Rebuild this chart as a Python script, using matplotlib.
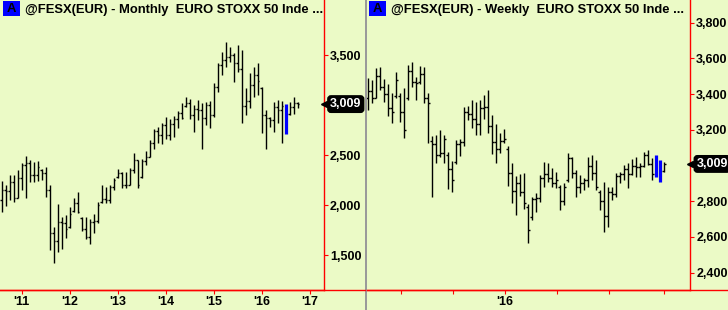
import matplotlib
matplotlib.use("Agg")
import matplotlib.pyplot as plt
import numpy as np
from matplotlib.patches import Rectangle
from matplotlib.lines import Line2D
from matplotlib.transforms import blended_transform_factory

BG = "#ebfac6"
RED = "#ff0000"
BLUE = "#0000ff"
plt.rcParams['font.family'] = ['Liberation Sans', 'DejaVu Sans']

# monthly bars, @FESX(EUR)
m_open = [2050, 2150, 2140, 2230, 2070, 2270, 2400, 2420, 2300, 2300,
          2350, 2320, 2150, 1720, 1640, 1830, 1820, 1780, 1940, 2020,
          1870, 1760, 1680, 1830, 1840, 2030, 2060, 2050, 2180, 2280,
          2320, 2200, 2200, 2350, 2450, 2280, 2440, 2480, 2620, 2740,
          2700, 2800, 2700, 2810, 2860, 2920, 2990, 3020, 2900, 2960,
          2950, 2870, 3000, 2900, 3180, 3400, 3450, 3480, 3500, 3420,
          3360, 2990, 3040, 3200, 3300, 3170, 2900, 2870, 2850, 2980,
          2950, 2990, 2910, 2980, 3020]
m_high = [2240, 2200, 2300, 2300, 2350, 2420, 2490, 2450, 2430, 2440,
          2360, 2380, 2200, 1780, 2010, 1880, 1900, 1980, 2070, 2130,
          1880, 1880, 1860, 1910, 2030, 2200, 2180, 2200, 2270, 2360,
          2330, 2330, 2370, 2520, 2450, 2460, 2540, 2650, 2760, 2780,
          2820, 2877, 2857, 2890, 2943, 3023, 3083, 3057, 3000, 3050,
          3017, 3033, 3040, 3223, 3417, 3533, 3633, 3583, 3517, 3600,
          3550, 3167, 3317, 3383, 3417, 3183, 2950, 2883, 3033, 3050,
          3040, 3010, 3033, 3083, 3033]
m_low = [1930, 1990, 2050, 2030, 2070, 2150, 2070, 2230, 2230, 2240,
         2250, 2080, 1550, 1420, 1530, 1560, 1670, 1770, 1930, 1920,
         1740, 1660, 1610, 1720, 1820, 2020, 2020, 2020, 2150, 2270,
         2170, 2170, 2200, 2320, 2170, 2270, 2400, 2480, 2560, 2620,
         2610, 2660, 2650, 2683, 2767, 2857, 2983, 2857, 2733, 2850,
         2557, 2800, 2767, 2883, 3133, 3300, 3383, 3433, 3233, 3333,
         2817, 2900, 2967, 3083, 3100, 2717, 2557, 2783, 2733, 2817,
         2617, 2707, 2900, 2910, 2967]
m_close = [2150, 2140, 2230, 2070, 2270, 2400, 2420, 2300, 2300, 2380,
           2320, 2150, 1720, 1640, 1830, 1820, 1760, 1910, 2020, 1930,
           1760, 1680, 1830, 1840, 2000, 2060, 2050, 2180, 2250, 2320,
           2200, 2200, 2350, 2450, 2200, 2440, 2480, 2620, 2740, 2700,
           2800, 2700, 2810, 2860, 2920, 2870, 3020, 2900, 2960, 2950,
           2870, 3000, 2900, 3180, 3400, 3450, 3480, 3500, 3420, 3360,
           2990, 3040, 3200, 3300, 3240, 2900, 2870, 2850, 2980, 2950,
           2990, 2850, 2980, 3020, 3009]
m_blue = [71]
m_ticks = [5, 17, 29, 41, 53, 65, 77]
m_tick_labels = ["'11", "'12", "'13", "'14", "'15", "'16", "'17"]
m_yticks = [1500, 2000, 2500, 3500]

# weekly bars, @FESX(EUR)
w_open = [3380, 3420, 3380, 3500, 3440, 3400, 3320, 3390, 3390, 3300,
          3380, 3530, 3470, 3470, 3510, 3380, 3140, 3120, 3060, 3070,
          3060, 2980, 3020, 3120, 3130, 3300, 3290, 3260, 3230, 3320,
          3330, 3220, 3130, 3090, 3140, 3090, 2960, 2860, 2900, 2850,
          2770, 2710, 2810, 2820, 2930, 2950, 2930, 2900, 2880, 2800,
          2920, 3040, 2960, 2880, 2900, 2920, 3000, 2960, 2850, 2800,
          2720, 2850, 2840, 2940, 2950, 2980, 2950, 3000, 2990, 3000,
          3060, 3010, 2950, 2990, 2970]
w_high = [3490, 3479, 3545, 3554, 3483, 3457, 3408, 3526, 3405, 3433,
          3563, 3582, 3498, 3557, 3554, 3408, 3166, 3171, 3199, 3171,
          3078, 3027, 3143, 3147, 3330, 3334, 3367, 3358, 3367, 3395,
          3423, 3283, 3233, 3181, 3203, 3110, 3013, 2942, 2953, 2960,
          2785, 2826, 2848, 2947, 3022, 3013, 2985, 2966, 2891, 2901,
          3069, 3050, 2975, 2947, 2929, 3050, 3059, 3031, 2863, 2910,
          2882, 2879, 2957, 2966, 3003, 3013, 3035, 3050, 3013, 3078,
          3087, 3041, 3059, 3031, 3022]
w_low = [3311, 3349, 3377, 3423, 3358, 3278, 3240, 3377, 3246, 3153,
         3367, 3442, 3367, 3457, 3349, 3125, 2826, 3013, 3050, 3013,
         2867, 2854, 3009, 3054, 3110, 3255, 3209, 3171, 3171, 3259,
         3181, 3065, 3017, 3072, 3125, 2886, 2792, 2723, 2830, 2755,
         2565, 2695, 2742, 2798, 2882, 2910, 2882, 2873, 2751, 2779,
         2910, 2929, 2826, 2845, 2863, 2882, 2919, 2863, 2751, 2630,
         2654, 2807, 2826, 2901, 2919, 2873, 2947, 2938, 2938, 2994,
         3003, 2919, 2934, 2906, 2966]
w_close = [3420, 3380, 3500, 3440, 3400, 3320, 3300, 3480, 3300, 3200,
           3530, 3470, 3460, 3510, 3380, 3350, 3120, 3060, 3070, 3150,
           2980, 2920, 3120, 3130, 3300, 3290, 3260, 3230, 3320, 3330,
           3220, 3130, 3090, 3140, 3150, 2960, 2860, 2900, 2850, 2790,
           2640, 2810, 2820, 2930, 2950, 2930, 2900, 2920, 2800, 2880,
           3040, 2960, 2880, 2900, 2920, 3000, 2960, 2880, 2800, 2720,
           2850, 2840, 2940, 2950, 2980, 2950, 3000, 2990, 3000, 3060,
           3010, 2950, 2990, 2940, 3009]
w_blue = [72, 73]
w_ticks = [8.15, 21.15, 34.15, 47.15, 60.15, 74.1]
w_tick_labels = ["", "", "'16", "", "", ""]
w_yticks = [2400, 2600, 2800, 3200, 3400, 3600, 3800]

last_price = 3009

W, H = 728, 310


def fx(px):
    return px / W


def fy(py):
    return 1 - py / H


def draw_bars(ax, o, h, l, c, blue):
    o, h, l, c = map(np.asarray, (o, h, l, c))
    x = np.arange(len(h))
    norm = np.array([i not in blue for i in x])
    ax.vlines(x[norm], l[norm], h[norm], color="black", lw=1.0)
    ax.hlines(o[norm], x[norm] - 0.4, x[norm], color="black", lw=1.0)
    ax.hlines(c[norm], x[norm], x[norm] + 0.4, color="black", lw=1.0)
    ax.vlines(x[~norm], l[~norm], h[~norm], color=BLUE, lw=2.3)


def style_axis(ax, yticks, xticks, xlabels):
    ax.set_facecolor(BG)
    for s in ("top", "left"):
        ax.spines[s].set_visible(False)
    for s in ("right", "bottom"):
        ax.spines[s].set_color(RED)
        ax.spines[s].set_linewidth(1.0)
    ax.yaxis.tick_right()
    ax.set_yticks(yticks)
    ax.set_yticklabels([f"{v:,}" for v in yticks])
    ax.set_xticks(xticks)
    ax.set_xticklabels(xlabels)
    ax.tick_params(axis="both", direction="out", length=3, width=0.8, color=RED,
                   labelsize=9, labelcolor="black", pad=1.5)
    for t in ax.get_xticklabels() + ax.get_yticklabels():
        t.set_fontweight("bold")


fig = plt.figure(figsize=(W / 100, H / 100), dpi=100, facecolor=BG)

ax1 = fig.add_axes([0, fy(290), fx(323.6), 290 / H])
draw_bars(ax1, m_open, m_high, m_low, m_close, m_blue)
ax1.set_xlim(-0.375, 80.5)
ax1.set_ylim(1150, 4050)
style_axis(ax1, m_yticks, m_ticks, m_tick_labels)

ax2 = fig.add_axes([fx(367), fy(290), fx(690 - 367), 290 / H])
draw_bars(ax2, w_open, w_high, w_low, w_close, w_blue)
ax2.set_xlim(-0.25, 80.5)
ax2.set_ylim(2303, 3927)
style_axis(ax2, w_yticks, w_ticks, w_tick_labels)

# bottom axis line continues under the price scale
fig.add_artist(Line2D([0, fx(364.5)], [fy(290)] * 2, color=RED, lw=1.0))
fig.add_artist(Line2D([fx(367), 1], [fy(290)] * 2, color=RED, lw=1.0))

# separator between the two charts
fig.add_artist(Rectangle((fx(364.5), 0), fx(2.5), 1, color="#9a9a9a", lw=0))

# titles with the blue "A" box
for x0, title in [(2.7, "@FESX(EUR) - Monthly  EURO STOXX 50 Inde ..."),
                  (368.5, "@FESX(EUR) - Weekly  EURO STOXX 50 Inde ...")]:
    fig.add_artist(Rectangle((fx(x0), fy(15.5)), fx(17.3), 14 / H, color=BLUE, lw=0))
    fig.text(fx(x0 + 8.7), fy(9), "A", ha="center", va="center",
             fontsize=9.4, fontweight="bold", color="black")
    fig.text(fx(x0 + 22.3), fy(9.5), title, ha="left", va="center",
             fontsize=9.4, fontweight="bold", color="black")

# last price markers: small black tag pointing at the price scale
for ax in (ax1, ax2):
    tr = blended_transform_factory(ax.transAxes, ax.transData)
    ax.plot([1.0], [last_price], marker="<", ms=5, color="black",
            transform=tr, clip_on=False, zorder=5)
    ax.annotate(f"{last_price:,}", xy=(1.0, last_price),
                xycoords=("axes fraction", "data"),
                xytext=(6.5, 0), textcoords="offset pixels",
                ha="left", va="center", fontsize=9, fontweight="bold", color="white",
                bbox=dict(boxstyle="round,pad=0.18,rounding_size=0.25",
                          fc="black", ec="black"),
                annotation_clip=False, zorder=6)

fig.savefig("out.png", dpi=100, facecolor=BG)
